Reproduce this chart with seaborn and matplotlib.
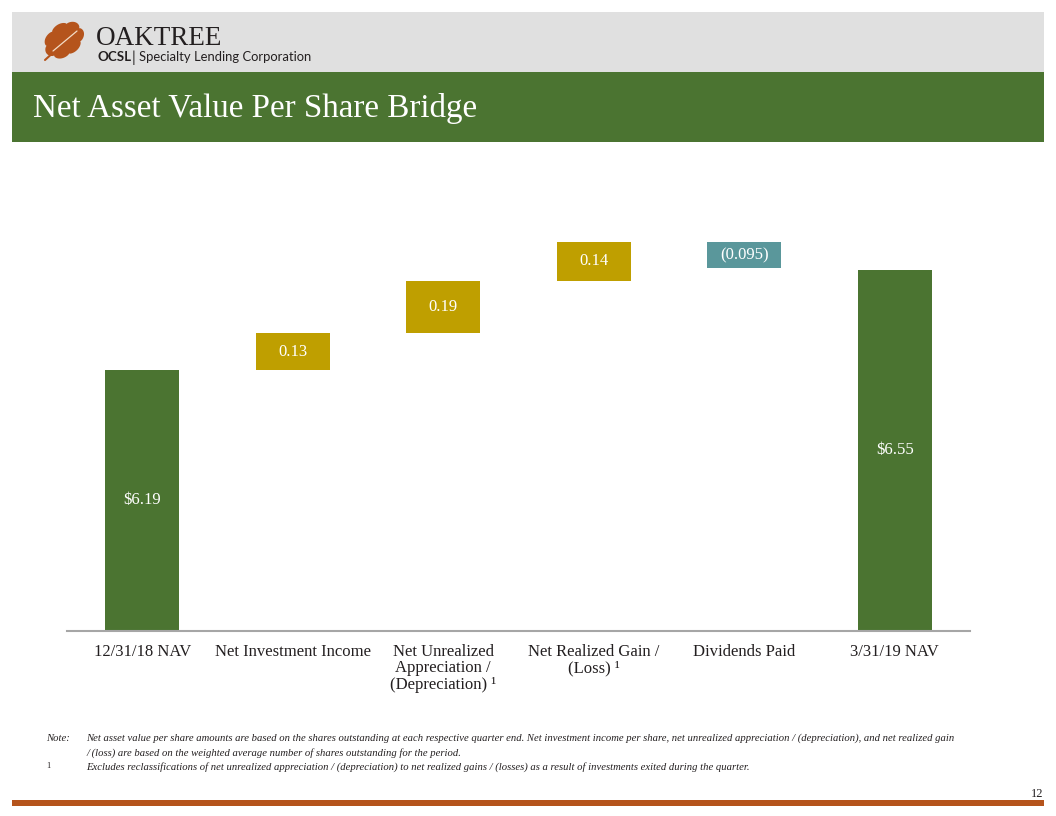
import numpy as np
import pandas as pd
import matplotlib
matplotlib.use("Agg")
import matplotlib.pyplot as plt
from matplotlib.patches import Rectangle, Polygon
import seaborn as sns

# ---- data ----
categories = ["12/31/18 NAV", "Net Investment Income",
              "Net Unrealized\nAppreciation /\n(Depreciation) \u00b9",
              "Net Realized Gain /\n(Loss) \u00b9", "Dividends Paid", "3/31/19 NAV"]
start_nav = 6.19
changes = [0.13, 0.19, 0.14, -0.095]
end_nav = 6.55
labels = ["$6.19", "0.13", "0.19", "0.14", "(0.095)", "$6.55"]
bar_colors = ["#4B7431", "#BF9F00", "#BF9F00", "#BF9F00", "#5A979B", "#4B7431"]

# waterfall geometry computed from the values
cum = start_nav + np.cumsum([0] + changes)
heights = [start_nav] + [abs(c) for c in changes] + [end_nav]
bottoms = [0.0] + [min(cum[i], cum[i + 1]) for i in range(len(changes))] + [0.0]

df = pd.DataFrame({"cat": categories, "height": heights})

W, H = 1056, 816
fig = plt.figure(figsize=(W / 100, H / 100), dpi=100)
sns.set_style("white")
plt.rcParams["font.family"] = ["Liberation Serif", "DejaVu Serif"]

def fx(px):
    return px / W

def fy(py):
    return 1 - py / H

# header bands
fig.patches.append(Rectangle((fx(12), fy(72)), fx(1032), 60 / H, transform=fig.transFigure,
                             facecolor="#E0E0E0", edgecolor="none", zorder=0))
fig.patches.append(Rectangle((fx(12), fy(142)), fx(1032), 70 / H, transform=fig.transFigure,
                             facecolor="#4B7431", edgecolor="none", zorder=0))
# bottom rule
fig.patches.append(Rectangle((fx(12), fy(806)), fx(1032), 6 / H, transform=fig.transFigure,
                             facecolor="#B5541C", edgecolor="none", zorder=0))

# oak leaf logo (decorative)
t = np.linspace(0, 2 * np.pi, 600)
r = 1 + 0.16 * np.abs(np.sin(3.5 * t)) ** 0.6
lx = 19 * r * np.cos(t)
ly = 14 * r * np.sin(t)
ang = np.deg2rad(-38)
px = 64 + lx * np.cos(ang) - ly * np.sin(ang)
py = 40 + lx * np.sin(ang) + ly * np.cos(ang)
fig.patches.append(Polygon(np.column_stack([fx(px), fy(py)]), closed=True,
                           transform=fig.transFigure, facecolor="#B5541C", edgecolor="none"))
fig.lines.append(plt.Line2D([fx(45), fx(56)], [fy(60), fy(50)], transform=fig.transFigure,
                            color="#B5541C", lw=1.5))
fig.lines.append(plt.Line2D([fx(53), fx(77)], [fy(51), fy(31)], transform=fig.transFigure,
                            color="#F3DCC6", lw=0.9))

fig.text(fx(96), fy(45), "OAKTREE", fontsize=19.5, color="#231F20", family=["Liberation Serif"],
         va="baseline", ha="left")
fig.text(fx(97), fy(61), "OCSL", fontsize=9.6, color="#231F20", family=["Lato"],
         fontweight="bold", va="baseline", ha="left")
fig.text(fx(132), fy(62), "|", fontsize=10.5, color="#231F20",
         family=["Lato"], va="baseline", ha="left")
fig.text(fx(139), fy(61), "Specialty Lending Corporation", fontsize=9.4, color="#231F20",
         family=["Lato"], va="baseline", ha="left")

fig.text(fx(33), fy(117), "Net Asset Value Per Share Bridge", fontsize=23.8, color="white",
         va="baseline", ha="left")

# chart
ax = fig.add_axes([fx(67), fy(631), fx(903), 431 / H])
sns.barplot(data=df, x="cat", y="height", bottom=bottoms, width=0.49, color=bar_colors[0],
            edgecolor="none", ax=ax)
for p, c in zip(ax.patches, bar_colors):
    p.set_facecolor(c)

ax.set_ylim(5.25, 6.80)
ax.set_xlim(-0.5, len(categories) - 0.5)
for i, (b, h, lab) in enumerate(zip(bottoms, heights, labels)):
    lo = max(b, ax.get_ylim()[0])
    ax.text(i, (lo + b + h) / 2, lab, ha="center", va="center", color="white", fontsize=12)

ax.set_xlabel("")
ax.set_ylabel("")
ax.set_yticks([])
for s in ["top", "left", "right"]:
    ax.spines[s].set_visible(False)
ax.spines["bottom"].set_color("#A6A6A6")
ax.spines["bottom"].set_linewidth(1.5)
ax.set_xticks(range(len(categories)))
ax.set_xticklabels(categories, fontsize=12, color="#231F20", linespacing=1.05, va="top")
ax.tick_params(axis="x", which="major", length=0, pad=9)
ax.set_xticks(np.arange(-0.5, len(categories), 1.0), minor=True)
ax.tick_params(axis="x", which="minor", length=5, width=1, color="#A6A6A6", direction="out")

# notes
note_kw = dict(fontsize=7.7, style="italic", color="#231F20", va="baseline", ha="left")
fig.text(fx(46), fy(741), "Note:", **note_kw)
fig.text(fx(86), fy(741), "Net asset value per share amounts are based on the shares outstanding at each "
         "respective quarter end. Net investment income per share, net unrealized appreciation / "
         "(depreciation), and net realized gain", **note_kw)
fig.text(fx(86), fy(756), "/ (loss) are based on the weighted average number of shares outstanding "
         "for the period.", **note_kw)
fig.text(fx(46), fy(768), "1", fontsize=6, color="#231F20", va="baseline", ha="left")
fig.text(fx(86), fy(770), "Excludes reclassifications of net unrealized appreciation / (depreciation) "
         "to net realized gains / (losses) as a result of investments exited during the quarter.",
         **note_kw)
fig.text(fx(1043), fy(797), "12", fontsize=9, color="#231F20", va="baseline", ha="right")

fig.savefig("out.png", dpi=100)
